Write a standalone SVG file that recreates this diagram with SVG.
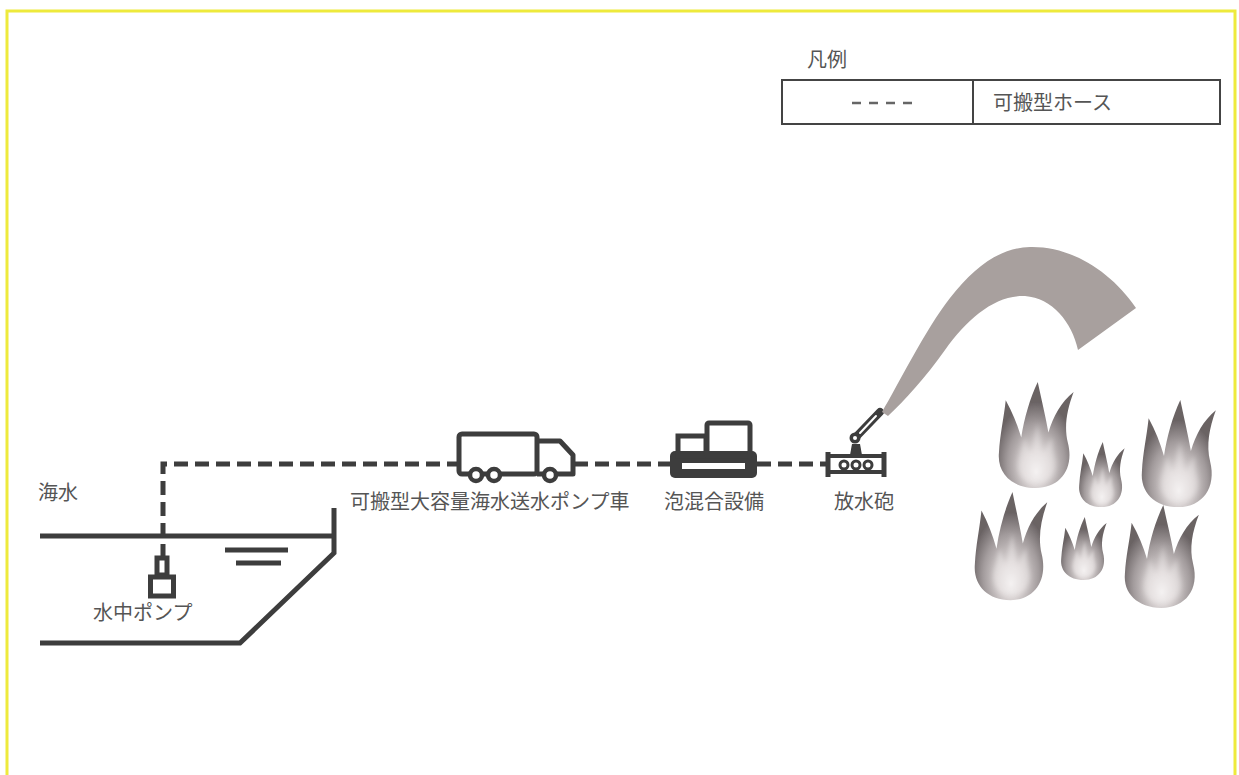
<svg xmlns="http://www.w3.org/2000/svg" width="1239" height="775" viewBox="0 0 1239 775">
  <style>
    .ink { stroke: #3d3d3d; fill: none; stroke-width: 5; }
    .inkfill { fill: #3d3d3d; }
    .hose { stroke: #3d3d3d; fill: none; stroke-width: 5; stroke-dasharray: 14 7; }
    .lbl { font-family: "Noto Sans CJK JP", "Noto Sans", sans-serif; fill: #555; font-size: 20px; }
    .mid { text-anchor: middle; }
  </style>
  <defs>
    <radialGradient id="flameGrad" cx="0.5" cy="0.74" r="0.55" fx="0.5" fy="0.85">
      <stop offset="0" stop-color="#f6f4f4"/>
      <stop offset="0.3" stop-color="#dad4d4"/>
      <stop offset="0.7" stop-color="#a29b9c"/>
      <stop offset="1" stop-color="#6a6364"/>
    </radialGradient>
    <filter id="soft" x="-10%" y="-10%" width="120%" height="120%">
      <feGaussianBlur stdDeviation="0.7"/>
    </filter>
    <filter id="softer" x="-20%" y="-20%" width="140%" height="140%">
      <feGaussianBlur stdDeviation="2.5"/>
    </filter>
    <!-- one flame in an 80 x 105 box -->
    <path id="flame" d="M40,105 C15,105 0,90 2,70 C3,52 7,36 9,18 C16,30 21,42 25,55 C28,36 34,16 42,0 C46,18 50,34 53,50 C58,34 66,20 79,10 C72,28 69,44 73,60 C80,86 65,105 40,105 Z"/>
    <!-- lighter inner tongue -->
    <path id="tongue" d="M40,100 C26,100 20,90 22,78 C24,68 27,62 28,54 C31,62 33,66 35,72 C37,60 39,50 42,40 C44,52 46,62 47,72 C50,64 53,60 57,54 C57,64 58,70 60,78 C62,92 54,100 40,100 Z"/>
  </defs>

  <rect width="1239" height="775" fill="#ffffff"/>
  <!-- frame -->
  <path d="M7,790 L7,11 L1235,11 L1235,790" fill="none" stroke="#eeea3c" stroke-width="3"/>

  <!-- legend -->
  <g id="legend">
    <text class="lbl" x="807" y="67" font-size="17">凡例</text>
    <rect x="782" y="80" width="438" height="44" fill="#fff" stroke="#444" stroke-width="2"/>
    <line x1="973" y1="80" x2="973" y2="124" stroke="#444" stroke-width="2"/>
    <line x1="852" y1="103" x2="913" y2="103" stroke="#666" stroke-width="2.5" stroke-dasharray="9 8"/>
    <text class="lbl" x="993" y="110">可搬型ホース</text>
  </g>

  <!-- sea and pit -->
  <g id="sea">
    <path class="ink" d="M40,536 L334,536 M334,508 L334,553 L240,643 L40,643"/>
    <line class="ink" x1="225" y1="550" x2="288" y2="550" stroke-width="5.5"/>
    <line class="ink" x1="236" y1="563" x2="281" y2="563" stroke-width="5.5"/>
    <text class="lbl" x="38" y="500">海水</text>
  </g>

  <!-- hoses -->
  <g id="connectors">
    <path class="hose" d="M163,558 L163,464 L459,464"/>
    <path class="hose" d="M574,464 L670,464"/>
    <path class="hose" d="M757,464 L828,464"/>
  </g>

  <!-- submersible pump -->
  <g id="pump">
    <rect x="157" y="558" width="10" height="17" class="ink" stroke-width="4"/>
    <rect x="150.5" y="577" width="23" height="19" class="ink" stroke-width="5"/>
    <text class="lbl" x="93" y="620">水中ポンプ</text>
  </g>

  <!-- pump truck -->
  <g id="truck">
    <rect x="459" y="434" width="78" height="40" rx="3" class="ink"/>
    <path class="ink" d="M537,441 L560,441 L573,455 L573,474 L537,474" stroke-linejoin="round"/>
    <circle cx="476" cy="475" r="6" fill="#fff" stroke="#3d3d3d" stroke-width="4.5"/>
    <circle cx="494" cy="475" r="6" fill="#fff" stroke="#3d3d3d" stroke-width="4.5"/>
    <circle cx="550" cy="475" r="6" fill="#fff" stroke="#3d3d3d" stroke-width="4.5"/>
    <text class="lbl" x="350" y="509" font-size="21">可搬型大容量海水送水ポンプ車</text>
  </g>

  <!-- foam mixing unit -->
  <g id="mixer">
    <rect x="670" y="451" width="87" height="27" rx="5" class="inkfill"/>
    <rect x="682" y="463" width="63" height="6" fill="#fff"/>
    <rect x="678" y="436" width="28" height="20" class="ink" fill="#fff"/>
    <rect x="707" y="423" width="43" height="33" rx="2" class="ink" fill="#fff"/>
    <text class="lbl mid" x="714" y="509">泡混合設備</text>
  </g>

  <!-- water cannon -->
  <g id="cannon">
    <line x1="828" y1="452" x2="828" y2="477" stroke="#3d3d3d" stroke-width="5"/>
    <line x1="884" y1="452" x2="884" y2="477" stroke="#3d3d3d" stroke-width="5"/>
    <line x1="828" y1="456" x2="884" y2="456" stroke="#3d3d3d" stroke-width="4"/>
    <line x1="828" y1="472" x2="884" y2="472" stroke="#3d3d3d" stroke-width="4"/>
    <circle cx="844" cy="465" r="4" fill="#fff" stroke="#3d3d3d" stroke-width="3"/>
    <circle cx="856" cy="465" r="4" fill="#fff" stroke="#3d3d3d" stroke-width="3"/>
    <circle cx="868" cy="465" r="4" fill="#fff" stroke="#3d3d3d" stroke-width="3"/>
    <path d="M850,455 L852,444 L860,444 L862,455 Z" class="inkfill"/>
    <line x1="855" y1="438" x2="880" y2="412" stroke="#3d3d3d" stroke-width="8" stroke-linecap="round"/>
    <line x1="860" y1="433" x2="876" y2="416" stroke="#fff" stroke-width="2" stroke-linecap="round"/>
    <circle cx="855" cy="438" r="5.5" fill="#3d3d3d"/>
    <circle cx="855" cy="438" r="2" fill="#fff"/>
    <text class="lbl mid" x="864" y="509">放水砲</text>
  </g>

  <!-- water jet -->
  <path id="jet" d="M882,412 C898,385 925,330 950,298 C975,266 1000,248 1030,247 C1070,246 1110,270 1136,308 L1078,350 C1072,322 1052,298 1025,296 C995,295 968,318 945,350 C925,378 905,400 888,416 Z" fill="#a8a09e"/>

  <!-- fire -->
  <g id="fire">
    <g transform="translate(997,382) scale(0.97,1.01)"><use href="#flame" fill="url(#flameGrad)" filter="url(#soft)"/><use href="#tongue" fill="#f3efef" opacity="0.45" filter="url(#softer)"/></g>
    <g transform="translate(1078,442) scale(0.59,0.62)"><use href="#flame" fill="url(#flameGrad)" filter="url(#soft)"/><use href="#tongue" fill="#f3efef" opacity="0.45" filter="url(#softer)"/></g>
    <g transform="translate(1140,400) scale(0.96,1.02)"><use href="#flame" fill="url(#flameGrad)" filter="url(#soft)"/><use href="#tongue" fill="#f3efef" opacity="0.45" filter="url(#softer)"/></g>
    <g transform="translate(973,492) scale(0.94,1.03)"><use href="#flame" fill="url(#flameGrad)" filter="url(#soft)"/><use href="#tongue" fill="#f3efef" opacity="0.45" filter="url(#softer)"/></g>
    <g transform="translate(1060,517) scale(0.59,0.6)"><use href="#flame" fill="url(#flameGrad)" filter="url(#soft)"/><use href="#tongue" fill="#f3efef" opacity="0.45" filter="url(#softer)"/></g>
    <g transform="translate(1123,505) scale(0.96,0.98)"><use href="#flame" fill="url(#flameGrad)" filter="url(#soft)"/><use href="#tongue" fill="#f3efef" opacity="0.45" filter="url(#softer)"/></g>
  </g>
</svg>
